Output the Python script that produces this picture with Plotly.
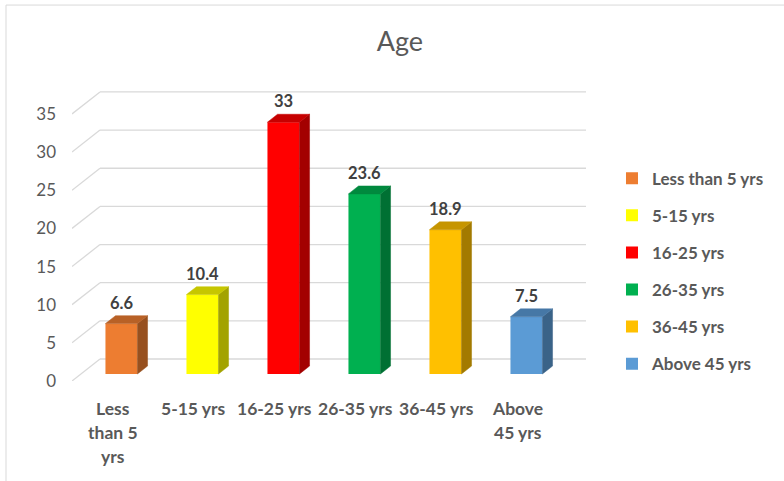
import plotly.graph_objects as go

# Age distribution (%)
categories = ["Less than 5 yrs", "5-15 yrs", "16-25 yrs", "26-35 yrs", "36-45 yrs", "Above 45 yrs"]
axis_labels = ["Less\nthan 5\nyrs", "5-15 yrs", "16-25 yrs", "26-35 yrs", "36-45 yrs", "Above\n45 yrs"]
values = [6.6, 10.4, 33, 23.6, 18.9, 7.5]
y_ticks = [0, 5, 10, 15, 20, 25, 30, 35]
colors = ["#ED7D31", "#FFFF00", "#FF0000", "#00B050", "#FFC000", "#5B9BD5"]

# pseudo-3D geometry (floor depth in axis units, bar placed in the middle of it)
DEPTH_X = 0.3457
DEPTH_Y = 2.883
BAR_FRONT = 0.32
BAR_BACK = 0.68
BAR_W = 0.395

TEXT = "#595959"
GRID = "#D9D9D9"
FONT = "Lato"


def shade(hex_color, k):
    h = hex_color.lstrip("#")
    r, g, b = (int(h[i:i + 2], 16) for i in (0, 2, 4))
    return "#%02X%02X%02X" % (int(r * k), int(g * k), int(b * k))


fig = go.Figure()

fx, fy = BAR_FRONT * DEPTH_X, BAR_FRONT * DEPTH_Y
ddx = (BAR_BACK - BAR_FRONT) * DEPTH_X
ddy = (BAR_BACK - BAR_FRONT) * DEPTH_Y

# front faces (also give the legend entries)
for i, (name, v, c) in enumerate(zip(categories, values, colors)):
    fig.add_trace(go.Bar(
        x=[i + fx], y=[v], base=[fy], width=BAR_W, name=name,
        marker=dict(color=c, line=dict(width=0)),
        legendgroup=name, hoverinfo="skip",
    ))

# side and top faces
for i, (v, c) in enumerate(zip(values, colors)):
    x0 = i + fx - BAR_W / 2
    x1 = i + fx + BAR_W / 2
    b = fy
    t = v + fy
    side = shade(c, 0.64)
    top = shade(c, 0.78)
    fig.add_trace(go.Scatter(
        x=[x1, x1, x1 + ddx, x1 + ddx, x1], y=[b, t, t + ddy, b + ddy, b],
        mode="lines", fill="toself", fillcolor=side, line=dict(color=side, width=0.5),
        showlegend=False, hoverinfo="skip",
    ))
    fig.add_trace(go.Scatter(
        x=[x0, x1, x1 + ddx, x0 + ddx, x0], y=[t, t, t + ddy, t + ddy, t],
        mode="lines", fill="toself", fillcolor=top, line=dict(color=top, width=0.5),
        showlegend=False, hoverinfo="skip",
    ))

# value labels above each column
for i, v in enumerate(values):
    fig.add_annotation(
        x=i + fx, y=v + BAR_BACK * DEPTH_Y, xref="x", yref="y",
        text=f"{v:g}", showarrow=False, yanchor="middle", yshift=13,
        font=dict(family=FONT, size=16.5, color="#404040", weight="bold"),
    )

# category labels, one annotation per text line
for i, lab in enumerate(axis_labels):
    for k, line in enumerate(lab.split("\n")):
        fig.add_annotation(
            x=i, y=0, xref="x", yref="y", text=line, showarrow=False,
            yanchor="middle", yshift=-27 - 24 * k,
            font=dict(family=FONT, size=17.5, color=TEXT, weight="bold"),
        )

# back wall gridlines with their side-wall diagonals
x_left = -0.5
x_right = len(categories) - 0.5
shapes = []
for v in y_ticks:
    shapes.append(dict(type="line", xref="x", yref="y", layer="below",
                       x0=x_left, y0=v, x1=x_left + DEPTH_X, y1=v + DEPTH_Y,
                       line=dict(color=GRID, width=1.3)))
    shapes.append(dict(type="line", xref="x", yref="y", layer="below",
                       x0=x_left + DEPTH_X, y0=v + DEPTH_Y, x1=x_right + DEPTH_X, y1=v + DEPTH_Y,
                       line=dict(color=GRID, width=1.3)))

# outer chart frame
shapes.append(dict(type="rect", xref="paper", yref="paper", layer="below",
                   x0=-0.1279, y0=-0.36, x1=1.40, y1=1.249,
                   line=dict(color=GRID, width=1), fillcolor="rgba(0,0,0,0)"))

fig.update_layout(
    width=784, height=481,
    margin=dict(l=72, r=196, t=80, b=100),
    paper_bgcolor="white", plot_bgcolor="white",
    barmode="overlay",
    shapes=shapes,
    title=dict(text="Age", x=0.51, xref="container", y=0.9127, yref="container",
               xanchor="center", yanchor="middle",
               font=dict(family=FONT, size=27, color=TEXT)),
    xaxis=dict(range=[-0.5, -0.5 + 516 / 81], showticklabels=False, showgrid=False,
               zeroline=False, showline=False, ticks="", fixedrange=True),
    yaxis=dict(range=[0, 301 / 7.63], tickvals=y_ticks, showgrid=False, zeroline=False,
               showline=False, ticks="", ticklabelstandoff=15,
               tickfont=dict(family=FONT, size=17, color=TEXT)),
    legend=dict(x=1.0465, xanchor="left", y=0.732, yanchor="top",
                tracegroupgap=12, bgcolor="rgba(0,0,0,0)",
                font=dict(family=FONT, size=17, color=TEXT, weight="bold")),
    showlegend=True,
)

fig.write_html("out.html")
